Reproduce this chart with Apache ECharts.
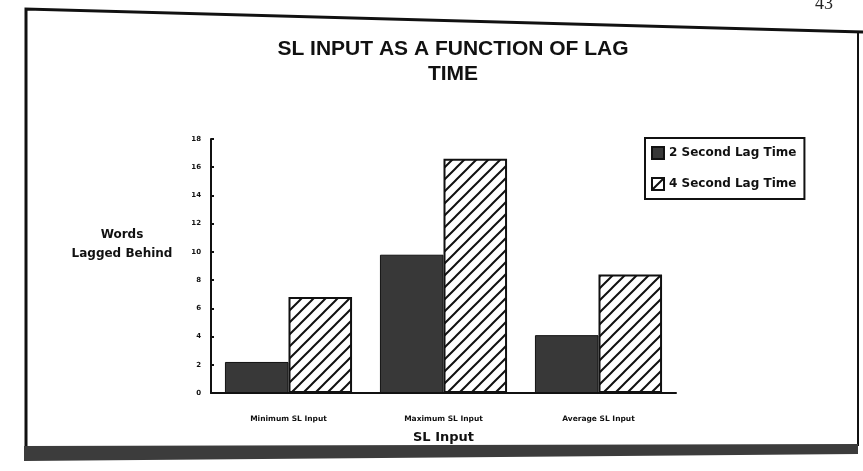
<!DOCTYPE html>
<html>
<head>
<meta charset="utf-8">
<script src="https://cdn.jsdelivr.net/npm/echarts@6/dist/echarts.min.js"></script>
<style>
  html, body { margin: 0; padding: 0; background: #fff; }
  #chart { width: 863px; height: 471px; }
</style>
</head>
<body>
<div id="chart"></div>
<script>
const categories = ["Minimum SL Input", "Maximum SL Input", "Average SL Input"];
const lag2 = [2.2, 9.8, 4.1];
const lag4 = [6.8, 16.6, 8.4];
const seriesNames = ["2 Second Lag Time", "4 Second Lag Time"];

// diagonal hatch used for the 4 second bars
function hatch() {
  const c = document.createElement("canvas");
  c.width = 12;
  c.height = 12;
  const g = c.getContext("2d");
  g.fillStyle = "#fff";
  g.fillRect(0, 0, 12, 12);
  g.strokeStyle = "#111";
  g.lineWidth = 2;
  g.beginPath();
  g.moveTo(-2, 14); g.lineTo(14, -2);
  g.moveTo(-8, 8); g.lineTo(8, -8);
  g.moveTo(4, 20); g.lineTo(20, 4);
  g.stroke();
  return c;
}

const chart = echarts.init(document.getElementById("chart"));
const font = "DejaVu Sans";

chart.setOption({
  backgroundColor: "#fff",
  animation: false,
  title: {
    text: "SL INPUT AS A FUNCTION OF LAG\nTIME",
    left: 448,
    top: 32,
    textAlign: "center",
    textStyle: { fontFamily: "Liberation Sans", fontSize: 21, fontWeight: "bold", color: "#111", lineHeight: 25 }
  },
  legend: {
    orient: "vertical",
    left: 645,
    top: 138,
    padding: [8, 8, 8, 6],
    itemGap: 17,
    itemWidth: 12,
    itemHeight: 12,
    icon: "rect",
    borderColor: "#111",
    borderWidth: 2,
    data: seriesNames,
    textStyle: { fontFamily: font, fontSize: 12, fontWeight: "bold", color: "#111" }
  },
  grid: { left: 211, right: 187, top: 139, bottom: 78 },
  xAxis: {
    type: "category",
    data: categories,
    name: "SL Input",
    nameLocation: "middle",
    nameGap: 38,
    nameTextStyle: { fontFamily: font, fontSize: 13, fontWeight: "bold", color: "#111" },
    axisLine: { lineStyle: { color: "#111", width: 2 } },
    axisTick: { inside: true, length: 3, lineStyle: { color: "#111", width: 2 } },
    axisLabel: { fontFamily: font, fontSize: 7.5, fontWeight: "bold", color: "#111", margin: 22 }
  },
  yAxis: {
    type: "value",
    min: 0,
    max: 18,
    interval: 2,
    splitLine: { show: false },
    axisLine: { show: true, lineStyle: { color: "#111", width: 2 } },
    axisTick: { show: true, inside: true, length: 3, lineStyle: { color: "#111", width: 2 } },
    axisLabel: { fontFamily: font, fontSize: 7, fontWeight: "bold", color: "#111", margin: 10 }
  },
  series: [
    {
      name: seriesNames[0],
      type: "bar",
      data: lag2,
      barWidth: "41%",
      barGap: "0%",
      itemStyle: { color: "#383838", borderColor: "#111", borderWidth: 1 }
    },
    {
      name: seriesNames[1],
      type: "bar",
      data: lag4,
      barWidth: "41%",
      barGap: "0%",
      itemStyle: { color: { image: hatch(), repeat: "repeat" }, borderColor: "#111", borderWidth: 2 }
    }
  ],
  graphic: [
    // page frame and its shadow
    { type: "polyline", shape: { points: [[26, 447], [26, 9], [863, 32]] }, style: { fill: null, stroke: "#111", lineWidth: 3 } },
    { type: "line", shape: { x1: 858, y1: 32, x2: 858, y2: 446 }, style: { stroke: "#111", lineWidth: 2 } },
    { type: "polygon", shape: { points: [[24, 446], [858, 444], [858, 454], [24, 461]] }, style: { fill: "#3c3c3c" } },
    {
      type: "text", left: 815, top: -5,
      style: { text: "43", fontFamily: "Liberation Serif", fontSize: 18, fill: "#222" }
    },
    {
      type: "text",
      style: {
        x: 122, y: 225, text: "Words\nLagged Behind", align: "center", lineHeight: 19,
        fontFamily: font, fontSize: 12, fontWeight: "bold", fill: "#111"
      }
    }
  ]
});
</script>
</body>
</html>
